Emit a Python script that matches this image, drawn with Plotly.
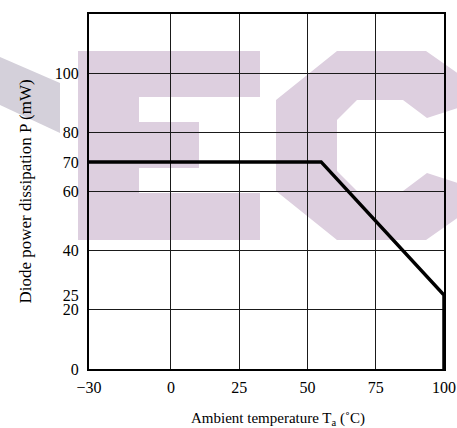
import plotly.graph_objects as go

# Derating curve: diode power dissipation vs ambient temperature
temperature_c = [-30, 55, 100, 100]
power_mw = [70, 70, 25, 0]

x_tick_vals = [-30, 0, 25, 50, 75, 100]
x_tick_text = ["\u221230", "0", "25", "50", "75", "100"]
y_tick_vals = [0, 20, 25, 40, 60, 70, 80, 100]
y_grid_vals = [20, 40, 60, 80, 100]

X_RANGE = [-30, 100]
Y_RANGE = [0, 120]

W, H = 457, 428
M_L, M_R, M_T, M_B = 89, 13, 14, 59
PW, PH = W - M_L - M_R, H - M_T - M_B

FONT = "Liberation Serif, Times New Roman, serif"


def px_path(points):
    """Polygon given in page pixels -> SVG path in paper coordinates."""
    parts = []
    for i, (px, py) in enumerate(points):
        xp = (px - M_L) / PW
        yp = (H - M_B - py) / PH
        parts.append(("M" if i == 0 else "L") + f"{xp:.4f},{yp:.4f}")
    return " ".join(parts) + " Z"


# Background logo shapes
LOGO_E = [(78, 51), (260, 51), (260, 97), (139, 97), (139, 122), (199, 122),
          (199, 168), (139, 168), (139, 193), (260, 193), (260, 240), (78, 240)]
LOGO_C = [(337, 51), (426, 51), (470, 82), (470, 104), (427, 118), (403, 100),
          (357, 100), (337, 120), (337, 171), (357, 191), (403, 191), (427, 173),
          (470, 187), (470, 209), (426, 240), (337, 240), (276, 191), (276, 100)]
LOGO_BAR = [(0, 57), (60, 83), (60, 133), (0, 105)]

PINK = "rgb(221,207,223)"
GREY = "rgb(212,208,218)"

fig = go.Figure()

fig.add_trace(go.Scatter(
    x=temperature_c, y=power_mw, mode="lines",
    line=dict(color="black", width=3.5),
    showlegend=False, hoverinfo="skip",
))
# overlay axis that carries only the horizontal grid
fig.add_trace(go.Scatter(
    x=[X_RANGE[0]], y=[Y_RANGE[0]], yaxis="y2", mode="lines",
    showlegend=False, hoverinfo="skip",
))

shapes = []
for pts, col in ((LOGO_E, PINK), (LOGO_C, PINK), (LOGO_BAR, GREY)):
    shapes.append(dict(type="path", xref="paper", yref="paper", path=px_path(pts),
                       fillcolor=col, line=dict(width=0), layer="below"))

fig.update_layout(
    width=W, height=H,
    margin=dict(l=M_L, r=M_R, t=M_T, b=M_B, pad=0, autoexpand=False),
    paper_bgcolor="white", plot_bgcolor="rgba(0,0,0,0)",
    font=dict(family=FONT, size=16, color="black"),
    shapes=shapes,
    xaxis=dict(
        range=X_RANGE, tickmode="array", tickvals=x_tick_vals, ticktext=x_tick_text,
        showgrid=True, gridcolor="#1a1a1a", gridwidth=1, zeroline=False,
        showline=True, linecolor="black", linewidth=2, mirror=True,
        ticks="outside", ticklen=3, tickcolor="rgba(0,0,0,0)", automargin=False,
        tickfont=dict(family=FONT, size=16, color="black"),
    ),
    yaxis=dict(
        range=Y_RANGE, tickmode="array", tickvals=y_tick_vals,
        showgrid=False, zeroline=False,
        showline=True, linecolor="black", linewidth=2, mirror=True,
        ticks="outside", ticklen=5, tickcolor="rgba(0,0,0,0)", automargin=False,
        tickfont=dict(family=FONT, size=16, color="black"),
    ),
    yaxis2=dict(
        range=Y_RANGE, overlaying="y", tickmode="array", tickvals=y_grid_vals,
        showticklabels=False, showgrid=True, gridcolor="#1a1a1a", gridwidth=1,
        zeroline=False, showline=False, automargin=False,
    ),
    annotations=[
        dict(text="Diode power dissipation P (mW)", xref="paper", yref="paper",
             x=(25 - M_L) / PW, y=0.5, textangle=-90, showarrow=False,
             xanchor="center", yanchor="middle",
             font=dict(family=FONT, size=17, color="black")),
        dict(text="Ambient temperature T<sub>a</sub> (\u02daC)", xref="paper", yref="paper",
             x=(278 - M_L) / PW, y=(H - M_B - 419) / PH, showarrow=False,
             xanchor="center", yanchor="middle",
             font=dict(family=FONT, size=15, color="black")),
    ],
)

fig.write_html("out.html")
